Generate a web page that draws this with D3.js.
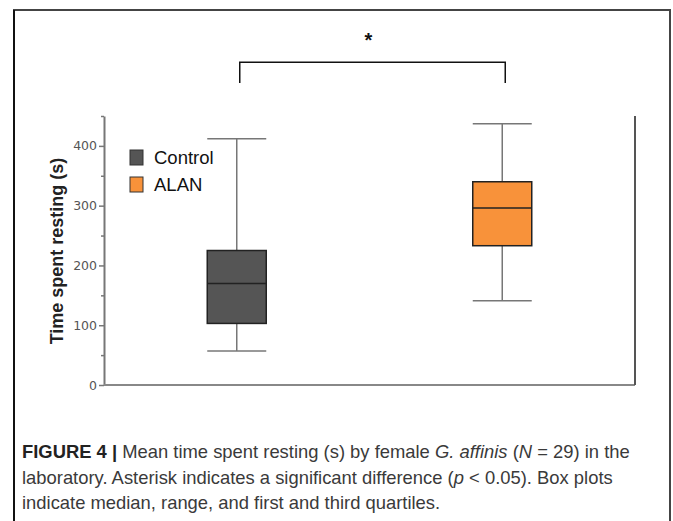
<!DOCTYPE html>
<html><head><meta charset="utf-8">
<script src="https://cdn.jsdelivr.net/npm/d3@7"></script>
<style>html,body{margin:0;padding:0;background:#fff;}svg{display:block;}</style>
</head><body>
<svg id="chart" width="673" height="521"></svg>
<script>
const categories = ["Control", "ALAN"];
const whiskerLow = [57, 141];
const q1 = [103, 233];
const median = [170, 296];
const q3 = [225, 340];
const whiskerHigh = [412, 437];
const yTicks = [0, 100, 200, 300, 400];
const yMinorTicks = [50, 150, 250, 350, 450];
const boxColors = ["#555555", "#f8923a"];
const yLabel = "Time spent resting (s)";
const sigLabel = "*";
const bracketValues = [505, 540];

const svg = d3.select("#chart");
const plotLeft = 104, plotRight = 635, plotBottom = 385, plotTop = 116;

const x = d3.scalePoint().domain(categories).range([plotLeft, plotRight]).padding(0.5);
const y = d3.scaleLinear().domain([0, 450]).range([plotBottom, plotTop]);
const boxW = 59;

// outer frame
svg.append("path").attr("d", "M14,521 V10 H670 V521").attr("fill", "none").attr("stroke", "#444").attr("stroke-width", 2);
svg.append("line").attr("x1", 14).attr("x2", 14).attr("y1", 10).attr("y2", 521).attr("stroke", "#111").attr("stroke-width", 2);

// y axis
const yAxis = d3.axisLeft(y).tickValues(yTicks).tickSize(5).tickPadding(2).tickSizeOuter(0);
const ga = svg.append("g").attr("transform", `translate(${plotLeft},0)`).call(yAxis);
ga.select(".domain").attr("stroke", "#777").attr("stroke-width", 2);
ga.selectAll(".tick line").attr("stroke", "#777").attr("stroke-width", 1.5);
ga.selectAll(".tick text").attr("font-family", "DejaVu Sans").attr("font-size", 12.5).attr("fill", "#555");
const yMinor = d3.axisLeft(y).tickValues(yMinorTicks).tickSize(3).tickFormat("").tickSizeOuter(0);
const gm = svg.append("g").attr("transform", `translate(${plotLeft},0)`).call(yMinor);
gm.select(".domain").remove();
gm.selectAll(".tick line").attr("stroke", "#777").attr("stroke-width", 1.5);

// bottom and right lines
svg.append("line").attr("x1", plotLeft).attr("x2", plotRight).attr("y1", y(0)).attr("y2", y(0)).attr("stroke", "#888").attr("stroke-width", 2);
svg.append("line").attr("x1", plotRight).attr("x2", plotRight).attr("y1", y(0)).attr("y2", y(450)).attr("stroke", "#555").attr("stroke-width", 2);

// y label
svg.append("text").attr("transform", `translate(63,251) rotate(-90)`).attr("text-anchor", "middle")
  .attr("font-family", "Liberation Sans, Arial, sans-serif").attr("font-size", 18).attr("font-weight", "bold").attr("fill", "#222")
  .text(yLabel);

// boxes
categories.forEach((c, i) => {
  const cx = x(c);
  const g = svg.append("g");
  g.append("line").attr("x1", cx).attr("x2", cx).attr("y1", y(whiskerHigh[i])).attr("y2", y(q3[i])).attr("stroke", "#777").attr("stroke-width", 1.5);
  g.append("line").attr("x1", cx).attr("x2", cx).attr("y1", y(q1[i])).attr("y2", y(whiskerLow[i])).attr("stroke", "#777").attr("stroke-width", 1.5);
  g.append("line").attr("x1", cx - boxW / 2).attr("x2", cx + boxW / 2).attr("y1", y(whiskerHigh[i])).attr("y2", y(whiskerHigh[i])).attr("stroke", "#777").attr("stroke-width", 1.5);
  g.append("line").attr("x1", cx - boxW / 2).attr("x2", cx + boxW / 2).attr("y1", y(whiskerLow[i])).attr("y2", y(whiskerLow[i])).attr("stroke", "#777").attr("stroke-width", 1.5);
  g.append("rect").attr("x", cx - boxW / 2).attr("y", y(q3[i])).attr("width", boxW).attr("height", y(q1[i]) - y(q3[i]))
    .attr("fill", boxColors[i]).attr("stroke", "#222").attr("stroke-width", 1.5);
  g.append("line").attr("x1", cx - boxW / 2).attr("x2", cx + boxW / 2).attr("y1", y(median[i])).attr("y2", y(median[i])).attr("stroke", "#222").attr("stroke-width", 1.5);
});

// legend
const legend = svg.append("g");
categories.forEach((c, i) => {
  const ly = 150 + i * 27;
  legend.append("rect").attr("x", 130).attr("y", ly).attr("width", 13).attr("height", 15)
    .attr("fill", boxColors[i]).attr("stroke", "#333").attr("stroke-width", 1);
  legend.append("text").attr("x", 154).attr("y", ly + 14).attr("font-family", "Liberation Sans, Arial, sans-serif")
    .attr("font-size", 18.5).attr("fill", "#111").text(c);
});

// significance bracket
const bx1 = x(categories[0]) + 3, bx2 = x(categories[1]) + 3;
svg.append("path").attr("d", `M${bx1},${y(bracketValues[0])} V${y(bracketValues[1])} H${bx2} V${y(bracketValues[0])}`)
  .attr("fill", "none").attr("stroke", "#111").attr("stroke-width", 1.5);
svg.append("text").attr("x", (bx1 + bx2) / 2 - 4).attr("y", 47).attr("text-anchor", "middle")
  .attr("font-family", "Liberation Sans, Arial, sans-serif").attr("font-size", 20).attr("font-weight", "bold").attr("fill", "#111").text(sigLabel);

// caption
const cap = svg.append("g").attr("font-family", "Liberation Sans, Arial, sans-serif").attr("font-size", 18.4).attr("fill", "#3a3a3a");
const l1 = cap.append("text").attr("x", 22).attr("y", 458);
l1.append("tspan").attr("font-weight", "bold").attr("fill", "#222").text("FIGURE 4 | ");
l1.append("tspan").text("Mean time spent resting (s) by female ");
l1.append("tspan").attr("font-style", "italic").text("G. affinis");
l1.append("tspan").text(" (");
l1.append("tspan").attr("font-style", "italic").text("N");
l1.append("tspan").text(" = 29) in the");
const l2 = cap.append("text").attr("x", 22).attr("y", 484);
l2.append("tspan").text("laboratory. Asterisk indicates a significant difference (");
l2.append("tspan").attr("font-style", "italic").text("p");
l2.append("tspan").text(" < 0.05). Box plots");
cap.append("text").attr("x", 22).attr("y", 509).text("indicate median, range, and first and third quartiles.");
</script>
</body></html>
